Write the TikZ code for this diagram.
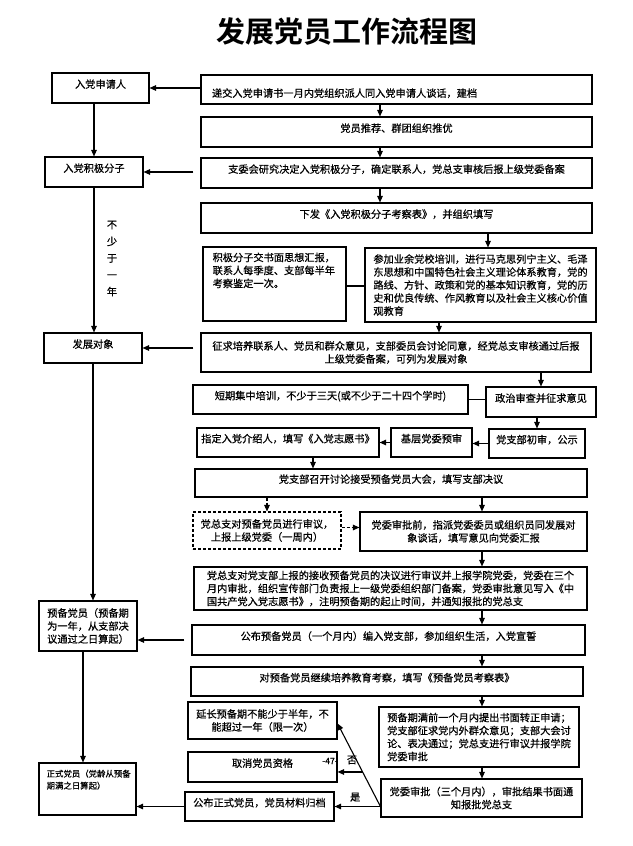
\documentclass[tikz,border=0pt]{standalone}
\usepackage{fontspec}
\newfontfamily\cjk{Noto Sans CJK SC}[FakeBold=0.6]
\newfontfamily\cjktitle{Noto Sans CJK SC Bold}
\usetikzlibrary{arrows.meta,calc}
\newcommand\mkbox[7]{%
  \pgfmathsetmacro\mbCx{(#2+#4)/2}\pgfmathsetmacro\mbCy{(#3+#5)/2}%
  \pgfmathsetmacro\mbW{#4-#2}\pgfmathsetmacro\mbH{#5-#3}%
  \node[box,minimum width=\mbW pt,minimum height=\mbH pt,#6] (#1) at (\mbCx,\mbCy) {#7};}
\begin{document}
\begin{tikzpicture}[x=1pt,y=-1pt,
  every node/.style={font=\cjk\fontsize{10.2}{13}\selectfont},
  box/.style={draw,line width=1.1pt,inner sep=0pt,align=center},
  raise/.style={text height=5pt,text depth=5pt},
  dashbox/.style={dash pattern=on 3pt off 2pt},
  arr/.style={line width=1.1pt,-{Triangle[length=6.5pt,width=5.5pt]}},
  darr/.style={arr,dash pattern=on 3pt off 2pt},
  ln/.style={line width=1.1pt}]
\fill[white] (0,0) rectangle (632,846);
\useasboundingbox (0,0) rectangle (632,846);

% title
\node[font=\cjktitle\fontsize{29}{29}\selectfont] (title) at (346.5,32) {发展党员工作流程图};

% left column
\mkbox{apply}{52}{73}{149}{103}{raise}{入党申请人}
\mkbox{active}{45}{157}{143}{187}{raise}{入党积极分子}
\mkbox{devobj}{44}{333}{142}{363}{raise}{发展对象}
\mkbox{prep}{39}{601}{137}{651}{align=left}{预备党员（预备期\\为一年，从支部决\\议通过之日算起）}
\mkbox{formal}{39}{763}{136}{815}{label={[anchor=north west,xshift=8pt,yshift=-7pt,inner sep=0pt,align=left,font=\cjk\fontsize{8.4}{12}\selectfont]north west:正式党员（党龄从预备\\期满之日算起）}}{}
\node[font=\cjk\fontsize{10.2}{16.7}\selectfont,align=center] (yearlbl) at (112,258.5) {不\\少\\于\\一\\年};

% right column
\mkbox{b1}{201}{75}{592}{104}{text width=369pt,align=left,text height=15pt,text depth=0pt}{递交入党申请书一月内党组织派人同入党申请人谈话，建档}
\mkbox{b2}{201}{117}{592}{147}{raise}{党员推荐、群团组织推优}
\mkbox{b3}{201}{158}{592}{188}{raise}{支委会研究决定入党积极分子，确定联系人，党总支审核后报上级党委备案}
\mkbox{b4}{201}{203}{592}{233}{raise}{下发《入党积极分子考察表》，并组织填写}
\mkbox{b5L}{203}{247}{346}{321}{label={[anchor=north west,xshift=10pt,yshift=-6pt,inner sep=0pt,align=left]north west:积极分子交书面思想汇报，\\联系人每季度、支部每半年\\考察鉴定一次。}}{}
\mkbox{b5R}{365}{248}{596}{322}{align=left}{参加业余党校培训，进行马克思列宁主义、毛泽\\东思想和中国特色社会主义理论体系教育，党的\\路线、方针、政策和党的基本知识教育，党的历\\史和优良传统、作风教育以及社会主义核心价值\\观教育}
\mkbox{b6}{201}{333}{591}{372}{}{征求培养联系人、党员和群众意见，支部委员会讨论同意，经党总支审核通过后报\\上级党委备案，可列为发展对象}
\mkbox{b7}{193}{385}{468}{414}{raise}{短期集中培训，不少于三天(或不少于二十四个学时)}
\mkbox{b8}{486}{387}{596}{417}{raise}{政治审查并征求意见}
\mkbox{b9}{197}{428}{379}{457}{raise}{指定入党介绍人，填写《入党志愿书》}
\mkbox{b10}{391}{428}{472}{457}{raise}{基层党委预审}
\mkbox{b11}{489}{429}{585}{458}{raise}{党支部初审，公示}
\mkbox{b12}{195}{469}{587}{497}{raise}{党支部召开讨论接受预备党员大会，填写支部决议}
\mkbox{b13}{193}{512}{341}{549}{dashbox}{党总支对预备党员进行审议，\\上报上级党委（一周内）}
\mkbox{b14}{360}{512}{587}{551}{}{党委审批前，指派党委委员或组织员同发展对\\象谈话，填写意见向党委汇报}
\mkbox{b15}{194}{567}{587}{610}{align=left}{党总支对党支部上报的接收预备党员的决议进行审议并上报学院党委，党委在三个\\月内审批，组织宣传部门负责报上一级党委组织部门备案，党委审批意见写入《中\\国共产党入党志愿书》，注明预备期的起止时间，并通知报批的党总支}
\mkbox{b16}{192}{625}{585}{655}{raise}{公布预备党员（一个月内）编入党支部，参加组织生活，入党宣誓}
\mkbox{b17}{191}{667}{583}{696}{raise}{对预备党员继续培养教育考察，填写《预备党员考察表》}
\mkbox{b18}{379}{707}{579}{767}{align=left}{预备期满前一个月内提出书面转正申请；\\党支部征求党内外群众意见；支部大会讨\\论、表决通过；党总支进行审议并报学院\\党委审批}
\mkbox{b19}{381}{779}{582}{817}{}{党委审批（三个月内），审批结果书面通\\知报批党总支}
\mkbox{b20}{188}{702}{337}{739}{}{延长预备期不能少于半年，不\\能超过一年（限一次）}
\mkbox{b21}{188}{752}{337}{782}{raise}{取消党员资格}
\mkbox{b22}{185}{792}{334}{821}{raise}{公布正式党员，党员材料归档}

% column coordinates
\coordinate (colA) at (380,0);
\coordinate (colB) at (488,0);
\coordinate (colC) at (439,0);
\coordinate (colD) at (541,0);
\coordinate (colE) at (313,0);
\coordinate (colF) at (482,0);

% left column connectors
\draw[arr] (b1.west |- apply.east) -- (apply.east);
\draw[arr] ([xshift=-7pt]b3.west |- active.east) -- (active.east);
\draw[arr] ([xshift=-7pt]b6.west |- devobj.east) -- (devobj.east);
\draw[arr] ([xshift=-7pt]b16.west) -- (prep.east |- b16.west);
\draw[arr] (b22.west) -- (formal.east |- b22.west);
\draw[arr] (active.north |- apply.south) -- (active.north);
\draw[arr] (active.south) -- (active.south |- devobj.north);
\draw[arr] (devobj.south) -- (devobj.south |- prep.north);
\draw[arr] ([xshift=-5pt]prep.south) -- ([xshift=-5pt]prep.south |- formal.north);

% right column connectors
\draw[arr] (b1.south -| colA) -- (b2.north -| colA);
\draw[arr] (b2.south -| colA) -- (b3.north -| colA);
\draw[arr] (b3.south -| colA) -- (b4.north -| colA);
\draw[arr] (b4.south -| colB) -- (b5R.north -| colB);
\draw[ln] (b5L.east |- 0,286) -- (b5R.west |- 0,286);
\draw[arr] (b5R.south -| colC) -- (b6.north -| colC);
\draw[arr] (b6.south -| colD) -- (b8.north -| colD);
\draw[ln] (b7.east) -- (b8.west |- b7.east);
\draw[arr] (b11.north |- b8.south) -- (b11.north);
\draw[arr] (b11.west) -- (b10.east |- b11.west);
\draw[arr] (b10.west) -- (b9.east |- b10.west);
\draw[arr] (b9.south -| colE) -- (b12.north -| colE);
\draw[darr] (b13.north |- b12.south) -- (b13.north);
\draw[arr] (b12.south -| colF) -- (b14.north -| colF);
\draw[darr] ([yshift=3pt]b13.east) -- ([yshift=3pt]b14.west |- b13.east);
\draw[arr] (b14.south -| colF) -- (b15.north -| colF);
\draw[arr] (b15.south -| colF) -- (b16.north -| colF);
\draw[arr] (b16.south -| colF) -- (b17.north -| colF);
\draw[arr] (b17.south -| colF) -- (b18.north -| colF);
\draw[arr] (b18.south -| colF) -- (b19.north -| colF);

% decision branches
\coordinate (src) at (b19.west |- b22.east);
\coordinate (tip) at ([yshift=-3pt]b20.east);
\coordinate (fork) at ($(src)!0.416!(tip)$);
\draw[arr] (src) -- (b22.east) node[pos=0.55,above=1pt] (yeslbl) {是};
\draw[arr] (src) -- (tip);
\draw[arr] (fork) -- (b21.east |- fork);
\node (nolbl) at (352,760) {否};
\node[font=\cjk\fontsize{8.5}{8.5}\selectfont] (pageno) at (330,761) {-47-};
\end{tikzpicture}
\end{document}
